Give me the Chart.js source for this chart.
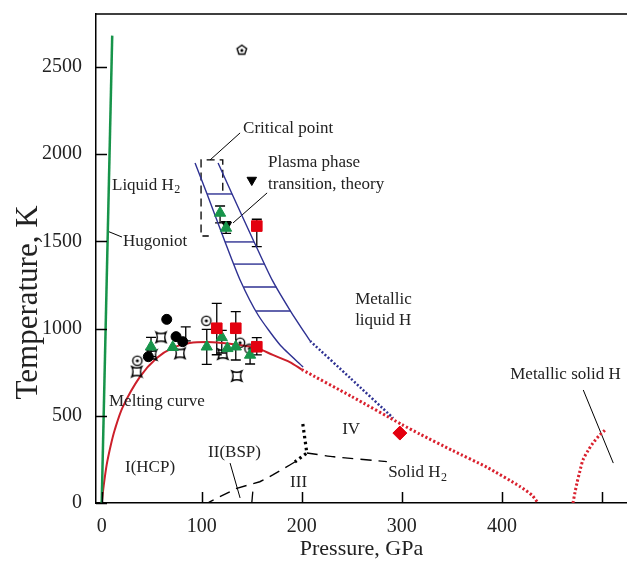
<!DOCTYPE html>
<html>
<head>
<meta charset="utf-8">
<title>Hydrogen phase diagram</title>
<script src="https://cdn.jsdelivr.net/npm/chart.js@4.4.0/dist/chart.umd.min.js"></script>
<style>
  body { margin: 0; background: #fff; }
  canvas { display: block; }
</style>
</head>
<body>
<canvas id="phaseChart" width="627" height="568"></canvas>
<script>
// Phase diagram data, [pressure GPa, temperature K] pairs

const hugoniot = [[0, 0], [10.5, 2680]];
const meltingCurve = [[0, 0], [2, 100], [5, 220], [9, 330], [13, 419], [21, 550], [38, 722], [55, 831],
  [71, 889], [88, 917], [105, 923], [121, 917], [138, 906], [155, 889], [171, 849], [188, 808], [200, 765]];
const meltingExtrapolated = [[200, 765], [250, 610], [300, 450], [318, 395], [351, 300], [385, 205],
  [418, 95], [430, 45], [436, 0]];
const metallicSolidLine = [[471, 0], [473, 60], [475, 115], [478, 185], [481, 247], [486, 300],
  [491, 344], [497, 385], [503, 418]];

// plasma phase transition band (two edges plus rungs)
const bandLeft = [[93.3, 1950], [105.3, 1772], [123.3, 1497], [138.3, 1279], [156.3, 1078], [178.3, 906], [201.3, 780]];
const bandRight = [[116.3, 1950], [130.3, 1772], [152.3, 1497], [170.3, 1279], [189.3, 1095], [208.3, 929]];
const bandExtrapolated = [[208.3, 929], [248.3, 717], [291.3, 487]];
const bandRungs = [
  [[105.3, 1772], [130.3, 1772]],
  [[123.3, 1497], [152.3, 1497]],
  [[132.3, 1370], [163, 1370]],
  [[141.9, 1239], [174.5, 1239]],
  [[154.3, 1101], [188.7, 1101]]
];
const criticalBox = [[121, 1790], [121, 1967], [99.3, 1967], [99.3, 1531], [107, 1531]];

// solid phase boundaries
const boundaryIV = [[201, 453], [203, 370], [205, 287], [193, 235]];
const boundaryIandII = [[193, 235], [188, 218], [171, 161], [158, 122], [135, 84], [108, 7], [106, 0]];
const boundaryIIIandIV = [[205, 287], [232, 265], [285, 237]];
const boundaryIIandIII = [[150, 0], [151, 65]];

// leader lines from labels
const leaderLines = [
  [[5.3, 1560], [20.3, 1525]],
  [[108.3, 1967], [138.3, 2122]],
  [[165.3, 1778], [131.3, 1606]],
  [[128.3, 229], [138.3, 29]],
  [[481.3, 648], [511.3, 229]]
];

// experimental points
const greenTriangles = [[118.3, 1663], [124.3, 1577], [49.3, 896], [71, 893], [105, 896], [120, 950],
  [125.6, 887], [134, 896], [148.3, 849]];
const redSquares = [[155, 1588], [115, 1002], [134, 1002], [155, 896]];
const blackCircles = [[65, 1053], [74.3, 954], [81, 925], [46.6, 839]];
const dottedCircles = [[35.6, 816], [104.6, 1045], [138.3, 919], [147.6, 885]];
const pinchedSquares = [[59.3, 950], [35, 753], [78.3, 858], [50, 849], [121, 854], [135, 728]];
const plasmaTheory = [[150, 1852], [125, 1594]];
const pentagonPoints = [[140, 2600]];
const redDiamond = [[298, 401]];

// [pressure, low T, high T]
const errorBars = [[118.3, 1606, 1703], [124.3, 1546, 1613], [155, 1470, 1627], [49.3, 839, 950],
  [105, 795, 996], [120, 860, 990], [115, 850, 1145], [134, 820, 1097], [155, 849, 948],
  [148.3, 797, 900], [84, 930, 1010]];

const xTicks = [0, 100, 200, 300, 400, 500];
const xTickLabels = ['0', '100', '200', '300', '400', ''];
const yTicks = [0, 500, 1000, 1500, 2000, 2500];
const yTickLabels = ['0', '500', '1000', '1500', '2000', '2500'];

// text placed on the diagram (left edge, vertical middle)
const annotations = [
  { text: 'Liquid H', sub: '2', x: 10.3, y: 1823 },
  { text: 'Hugoniot', x: 21.3, y: 1502 },
  { text: 'Critical point', x: 141.3, y: 2150 },
  { text: 'Plasma phase', x: 166.3, y: 1950 },
  { text: 'transition, theory', x: 166.3, y: 1829 },
  { text: 'Metallic', x: 253.3, y: 1164 },
  { text: 'liquid H', x: 253.3, y: 1044 },
  { text: 'Melting curve', x: 7.3, y: 579 },
  { text: 'I(HCP)', x: 23.3, y: 201 },
  { text: 'II(BSP)', x: 106.3, y: 287 },
  { text: 'III', x: 188.3, y: 120 },
  { text: 'IV', x: 240.3, y: 419 },
  { text: 'Solid H', sub: '2', x: 286.3, y: 172 },
  { text: 'Metallic solid H', x: 408.3, y: 734 }
];

const SERIF = '"Liberation Serif", "DejaVu Serif", serif';

function toPoints(pairs) {
  return pairs.map(p => ({ x: p[0], y: p[1] }));
}

function lineSet(pairs, color, width, dash, tension) {
  return {
    data: toPoints(pairs),
    showLine: true,
    borderColor: color,
    borderWidth: width,
    borderDash: dash || [],
    borderCapStyle: 'butt',
    tension: tension || 0,
    pointRadius: 0,
    pointHoverRadius: 0,
    fill: false,
    order: 2
  };
}

function markerSet(pairs, style, color, radius, extra) {
  return Object.assign({
    data: toPoints(pairs),
    showLine: false,
    pointStyle: style,
    pointRadius: radius,
    pointHoverRadius: radius,
    pointBackgroundColor: color,
    pointBorderColor: color,
    pointBorderWidth: 1,
    order: 0
  }, extra || {});
}

// small hand drawn symbols for the open markers
function makeSymbol(draw) {
  const c = document.createElement('canvas');
  c.width = 14;
  c.height = 14;
  const ctx = c.getContext('2d');
  ctx.strokeStyle = '#000';
  ctx.fillStyle = '#000';
  ctx.lineWidth = 1.4;
  draw(ctx);
  return c;
}

const dotCircle = makeSymbol(ctx => {
  ctx.beginPath();
  ctx.arc(7, 7, 4.6, 0, Math.PI * 2);
  ctx.stroke();
  ctx.beginPath();
  ctx.arc(7, 7, 1.6, 0, Math.PI * 2);
  ctx.fill();
});

const pinchedSquare = makeSymbol(ctx => {
  ctx.beginPath();
  ctx.moveTo(2, 2);
  ctx.quadraticCurveTo(7, 4.5, 12, 2);
  ctx.quadraticCurveTo(9.5, 7, 12, 12);
  ctx.quadraticCurveTo(7, 9.5, 2, 12);
  ctx.quadraticCurveTo(4.5, 7, 2, 2);
  ctx.closePath();
  ctx.stroke();
});

const dotPentagon = makeSymbol(ctx => {
  ctx.beginPath();
  for (let i = 0; i < 5; i++) {
    const a = -Math.PI / 2 + i * 2 * Math.PI / 5;
    const px = 7 + 5 * Math.cos(a), py = 7.5 + 5 * Math.sin(a);
    if (i === 0) ctx.moveTo(px, py); else ctx.lineTo(px, py);
  }
  ctx.closePath();
  ctx.stroke();
  ctx.beginPath();
  ctx.arc(7, 7.8, 1.5, 0, Math.PI * 2);
  ctx.fill();
});

const RED = '#e3000f';
const GREEN = '#17944a';
const BLUE = '#2e3192';

const datasets = [
  markerSet(redDiamond, 'rectRot', RED, 7),
  markerSet(redSquares, 'rect', RED, 7.5),
  markerSet(greenTriangles, 'triangle', GREEN, 6.5),
  markerSet(blackCircles, 'circle', '#000', 5),
  markerSet(plasmaTheory, 'triangle', '#000', 5.5, { pointRotation: 180 }),
  markerSet(dottedCircles, dotCircle, '#000', 6),
  markerSet(pinchedSquares, pinchedSquare, '#000', 6),
  markerSet(pentagonPoints, dotPentagon, '#000', 6),
  lineSet(hugoniot, GREEN, 2.5),
  lineSet(meltingCurve, '#cc1f2a', 2, [], 0.3),
  lineSet(meltingExtrapolated, '#d9212e', 3, [2.2, 2.2], 0.2),
  lineSet(metallicSolidLine, '#d9212e', 3, [2.2, 2.2], 0.3),
  lineSet(bandLeft, BLUE, 1.4, [], 0.2),
  lineSet(bandRight, BLUE, 1.4, [], 0.2),
  lineSet(bandExtrapolated, BLUE, 2.5, [2, 2], 0.2),
  lineSet(criticalBox, '#000', 1.3, [8, 5]),
  lineSet(boundaryIV, '#000', 3.2, [2.5, 3.5]),
  lineSet(boundaryIandII, '#000', 1.4, [11, 7]),
  lineSet(boundaryIIIandIV, '#000', 1.4, [11, 7], 0.2),
  lineSet(boundaryIIandIII, '#000', 1.3)
];
bandRungs.forEach(r => datasets.push(lineSet(r, BLUE, 1.4)));
leaderLines.forEach(l => datasets.push(lineSet(l, '#000', 1)));

// error bars drawn under the markers
const errorBarPlugin = {
  id: 'errorBars',
  beforeDatasetsDraw(chart) {
    const { ctx, scales: { x, y } } = chart;
    ctx.save();
    ctx.strokeStyle = '#000';
    ctx.lineWidth = 1.3;
    errorBars.forEach(([p, lo, hi]) => {
      const px = x.getPixelForValue(p);
      const top = y.getPixelForValue(hi);
      const bot = y.getPixelForValue(lo);
      ctx.beginPath();
      ctx.moveTo(px, top);
      ctx.lineTo(px, bot);
      ctx.moveTo(px - 5, top);
      ctx.lineTo(px + 5, top);
      ctx.moveTo(px - 5, bot);
      ctx.lineTo(px + 5, bot);
      ctx.stroke();
    });
    ctx.restore();
  }
};

// top border, ticks pointing inside the frame, and the y title
const framePlugin = {
  id: 'frame',
  afterDraw(chart) {
    const { ctx, chartArea: area, scales: { x, y } } = chart;
    ctx.save();
    ctx.strokeStyle = '#000';
    ctx.lineWidth = 1.5;
    ctx.beginPath();
    ctx.moveTo(area.left, area.top);
    ctx.lineTo(area.right, area.top);
    xTicks.forEach(v => {
      const px = Math.round(x.getPixelForValue(v)) + 0.5;
      ctx.moveTo(px, area.bottom);
      ctx.lineTo(px, area.bottom - 11);
    });
    yTicks.forEach(v => {
      const py = Math.round(y.getPixelForValue(v)) + 0.5;
      ctx.moveTo(area.left, py);
      ctx.lineTo(area.left + 11, py);
    });
    ctx.stroke();

    // the scanned figure has a taller y title, sitting a little below centre
    ctx.translate(29, y.getPixelForValue(1150));
    ctx.rotate(-Math.PI / 2);
    ctx.fillStyle = '#222';
    ctx.font = '31px ' + SERIF;
    ctx.textAlign = 'center';
    ctx.textBaseline = 'middle';
    ctx.fillText('Temperature, K', 0, 0);
    ctx.restore();
  }
};

const labelPlugin = {
  id: 'labels',
  afterDraw(chart) {
    const { ctx, scales: { x, y } } = chart;
    ctx.save();
    ctx.fillStyle = '#222';
    ctx.textBaseline = 'middle';
    ctx.textAlign = 'left';
    annotations.forEach(a => {
      const px = x.getPixelForValue(a.x);
      const py = y.getPixelForValue(a.y);
      ctx.font = '17px ' + SERIF;
      ctx.fillText(a.text, px, py);
      if (a.sub) {
        const w = ctx.measureText(a.text).width;
        ctx.font = '12px ' + SERIF;
        ctx.fillText(a.sub, px + w + 0.5, py + 5);
      }
    });
    ctx.restore();
  }
};

new Chart(document.getElementById('phaseChart'), {
  type: 'scatter',
  data: { datasets: datasets },
  plugins: [errorBarPlugin, framePlugin, labelPlugin],
  options: {
    responsive: false,
    animation: false,
    layout: { autoPadding: false, padding: { top: 14, right: 0, bottom: 0, left: 0 } },
    plugins: {
      legend: { display: false },
      tooltip: { enabled: false }
    },
    scales: {
      x: {
        type: 'linear',
        min: -5.7,
        max: 525,
        afterFit: scale => {
          scale.height = 65;
          scale.paddingLeft = 0;
          scale.paddingRight = 0;
        },
        afterBuildTicks: scale => { scale.ticks = xTicks.map(v => ({ value: v })); },
        grid: { display: false, drawTicks: false },
        border: { display: true, color: '#000', width: 1.5 },
        ticks: {
          autoSkip: false,
          maxRotation: 0,
          padding: 12,
          color: '#222',
          font: { family: SERIF, size: 20 },
          callback: (value, index) => xTickLabels[index]
        },
        title: {
          display: true,
          text: 'Pressure, GPa',
          color: '#222',
          font: { family: SERIF, size: 22, lineHeight: 1.2 },
          padding: { top: 0, bottom: 6 }
        }
      },
      y: {
        type: 'linear',
        min: 0,
        max: 2804,
        afterFit: scale => {
          scale.width = 96;
          scale.paddingTop = 0;
          scale.paddingBottom = 0;
        },
        afterBuildTicks: scale => { scale.ticks = yTicks.map(v => ({ value: v })); },
        grid: { display: false, drawTicks: false },
        border: { display: true, color: '#000', width: 1.5 },
        ticks: {
          autoSkip: false,
          padding: 14,
          color: '#222',
          font: { family: SERIF, size: 20 },
          callback: (value, index) => yTickLabels[index]
        },
        title: { display: false }
      }
    }
  }
});
</script>
</body>
</html>
